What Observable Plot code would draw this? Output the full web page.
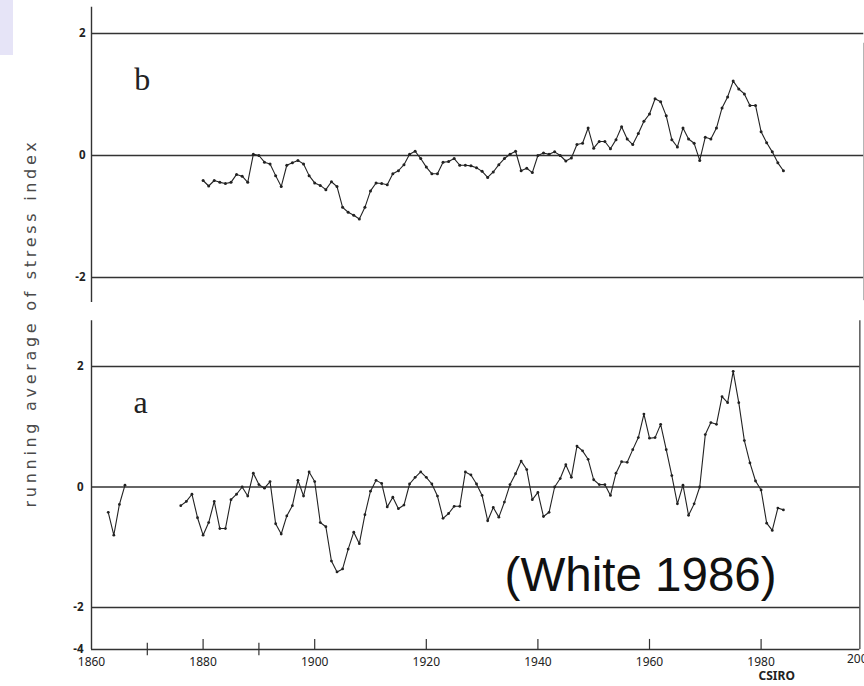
<!DOCTYPE html>
<html>
<head>
<meta charset="utf-8">
<script src="https://cdn.jsdelivr.net/npm/d3@7"></script>
<script src="https://cdn.jsdelivr.net/npm/@observablehq/plot@0.6"></script>
<style>
  html, body { margin: 0; padding: 0; background: #fff; }
  #fig { position: relative; width: 864px; height: 686px; overflow: hidden; background: #fff;
         font-family: "Liberation Sans", Arial, sans-serif; }
  #fig svg { display: block; }
  #corner { position: absolute; left: 0; top: 0; width: 13px; height: 55px; background: #e6e4f7; }
  #ylab { position: absolute; left: -169px; top: 314px; width: 400px; height: 18px; line-height: 18px;
          text-align: center; transform: rotate(-90deg); transform-origin: 50% 50%;
          font-family: "DejaVu Sans", sans-serif; font-size: 16px; letter-spacing: 3.7px; color: #4a4a4a;
          white-space: nowrap; }
</style>
</head>
<body>
<div id="fig"><div id="corner"></div><div id="ylab">running average of stress index</div></div>
<script>
// ---------- data ----------
// Panel b: annual running average, 1880–1984
const bStartYear = 1880;
const bValues = [
  -0.41, -0.50, -0.41, -0.44, -0.46, -0.44, -0.31, -0.34, -0.44, 0.02,
   0.00, -0.11, -0.14, -0.33, -0.51, -0.16, -0.12, -0.08, -0.14, -0.33,
  -0.45, -0.49, -0.56, -0.43, -0.51, -0.85, -0.93, -0.98, -1.04, -0.85,
  -0.58, -0.45, -0.46, -0.48, -0.30, -0.25, -0.15, 0.02, 0.07, -0.05,
  -0.19, -0.30, -0.30, -0.11, -0.10, -0.05, -0.16, -0.16, -0.17, -0.20,
  -0.26, -0.36, -0.27, -0.15, -0.05, 0.02, 0.07, -0.25, -0.21, -0.28,
   0.00, 0.04, 0.02, 0.06, 0.00, -0.09, -0.04, 0.18, 0.20, 0.45,
   0.12, 0.23, 0.23, 0.11, 0.26, 0.47, 0.27, 0.18, 0.36, 0.56,
   0.68, 0.93, 0.88, 0.65, 0.26, 0.14, 0.45, 0.27, 0.20, -0.08,
   0.30, 0.27, 0.45, 0.78, 0.96, 1.22, 1.09, 1.01, 0.82, 0.82,
   0.39, 0.21, 0.06, -0.12, -0.25
];
// Panel a: early fragment 1863–1866, then 1876–1984
const aEarlyStartYear = 1863;
const aEarlyValues = [-0.42, -0.80, -0.29, 0.03];
const aStartYear = 1876;
const aValues = [
  -0.31, -0.24, -0.12, -0.51,
  -0.80, -0.59, -0.24, -0.69, -0.69, -0.21, -0.12, 0.00, -0.15, 0.23,
   0.04, -0.02, 0.09, -0.61, -0.78, -0.48, -0.31, 0.11, -0.15, 0.25,
   0.09, -0.59, -0.66, -1.23, -1.41, -1.36, -1.03, -0.75, -0.94, -0.46,
  -0.07, 0.11, 0.06, -0.33, -0.17, -0.36, -0.30, 0.05, 0.16, 0.25,
   0.16, 0.05, -0.15, -0.52, -0.44, -0.32, -0.32, 0.25, 0.20, 0.05,
  -0.14, -0.56, -0.34, -0.50, -0.25, 0.04, 0.22, 0.43, 0.29, -0.21,
  -0.09, -0.49, -0.42, 0.00, 0.14, 0.37, 0.16, 0.68, 0.60, 0.46,
   0.12, 0.04, 0.04, -0.14, 0.23, 0.42, 0.41, 0.62, 0.82, 1.21,
   0.81, 0.82, 1.04, 0.62, 0.19, -0.28, 0.03, -0.47, -0.28, 0.00,
   0.87, 1.07, 1.04, 1.50, 1.40, 1.92, 1.40, 0.77, 0.40, 0.10,
  -0.05, -0.60, -0.72, -0.35, -0.38
];
// axes
const xTickLabels = [1860, 1880, 1900, 1920, 1940, 1960, 1980];
const xEdgeLabel = [2000];
const xMajorTicks = [1880, 1900, 1920, 1940, 1960, 1980];
const xMinorTicks = [1870, 1890];
const bGridLines = [2, 0, -2];
const bTickLabels = [2, 0, -2];
const aGridLines = [2, 0, -2, -4];
const aTickLabels = [2, 0, -2, -4];
const panelLabels = ["b", "a"];
const sourceNote = "(White 1986)";
const credit = "CSIRO";

// ---------- build tables ----------
const toRows = (start, vals) => vals.map((v, i) => ({year: start + i, v}));
const bData = toRows(bStartYear, bValues);
const aData = [
  ...toRows(aEarlyStartYear, aEarlyValues).map(d => ({...d, seg: 1})),
  ...toRows(aStartYear, aValues).map(d => ({...d, seg: 2}))
];

const X = {domain: [1860, 2000], range: [91, 872.2], axis: null};
const ink = "#222";
const frame = "#333";
const fmt = d => (d < 0 ? "-" + Math.abs(d) : String(d));
// the original figure compresses the axis below -2 (the -2 … -4 band is drawn shorter)
const compressBelow = v => (v < -2 ? -2 + (v + 2) * 0.3486 : v);

// ---------- top panel (b) ----------
const topPlot = Plot.plot({
  width: 864, height: 311, margin: 0,
  style: {background: "transparent", overflow: "visible"},
  x: X,
  y: {domain: [-2, 2], range: [277, 33], axis: null},
  marks: [
    Plot.ruleY(bGridLines, {x1: () => 1860, x2: () => 1998.4, stroke: frame, strokeWidth: 1.3}),
    Plot.ruleX([1860], {y1: () => -2.41, y2: () => 2.43, stroke: frame, strokeWidth: 1.4}),
    Plot.ruleX([1998.4], {y1: () => -2.38, y2: () => 1.84, stroke: "#9a9a9a", strokeWidth: 1}),
    Plot.text(bTickLabels, {x: () => 1860, y: d => d, text: fmt, textAnchor: "end", dx: -6,
      fontSize: 11.5, fontWeight: "bold", fill: ink, letterSpacing: 1}),
    Plot.line(bData, {x: "year", y: "v", stroke: ink, strokeWidth: 1.1}),
    Plot.dot(bData, {x: "year", y: "v", r: 1.5, fill: ink, stroke: "none"}),
    Plot.text([panelLabels[0]], {x: () => 1869.1, y: () => 1.066, text: d => d, lineAnchor: "bottom",
      fontFamily: "Liberation Serif, serif", fontSize: 32, fill: ink})
  ]
});

// ---------- bottom panel (a) ----------
const botPlot = Plot.plot({
  width: 864, height: 375, margin: 0,
  style: {background: "transparent", overflow: "visible"},
  x: X,
  y: {type: "linear", transform: compressBelow, domain: [-2, 2], range: [296, 55], axis: null},
  marks: [
    Plot.ruleY(aGridLines, {x1: () => 1860, x2: () => 1997.7, stroke: frame, strokeWidth: 1.3}),
    Plot.ruleX([1860], {y1: () => -4, y2: () => 2.76, stroke: frame, strokeWidth: 1.4}),
    Plot.ruleX([1997.7], {y1: () => -4, y2: () => 2.76, stroke: frame, strokeWidth: 1.2}),
    Plot.ruleX(xMajorTicks, {y1: () => -4, y2: () => -3.52, stroke: frame, strokeWidth: 1.2}),
    Plot.ruleX(xMinorTicks, {y1: () => -4.3, y2: () => -3.7, stroke: frame, strokeWidth: 1.2}),
    Plot.text(aTickLabels, {x: () => 1860, y: d => d, text: fmt, textAnchor: "end", dx: -8,
      fontSize: 11.5, fontWeight: "bold", fill: ink, letterSpacing: 1}),
    Plot.text(xTickLabels, {x: d => d, y: () => -4, text: d => String(d), lineAnchor: "top", dy: 7.5,
      fontSize: 12, fill: ink}),
    Plot.text(xEdgeLabel, {x: d => d, y: () => -4, text: d => String(d), lineAnchor: "top", dy: 5, dx: -12,
      fontSize: 12, fill: ink}),
    Plot.line(aData, {x: "year", y: "v", z: "seg", stroke: ink, strokeWidth: 1.1}),
    Plot.dot(aData, {x: "year", y: "v", r: 1.4, fill: ink, stroke: "none"}),
    Plot.text([panelLabels[1]], {x: () => 1868.8, y: () => 1.22, text: d => d, lineAnchor: "bottom",
      fontFamily: "Liberation Serif, serif", fontSize: 32, fill: ink}),
    Plot.text([sourceNote], {x: () => 1958.4, y: () => -1.72, text: d => d, lineAnchor: "bottom",
      fontFamily: "Liberation Sans, Arial, sans-serif", fontSize: 47.5, fill: "#111"}),
    Plot.text([credit], {x: () => 1982.8, y: () => -5.45, text: d => d, lineAnchor: "bottom",
      fontSize: 12, fontWeight: "bold", letterSpacing: 3.5, fill: "#222"})
  ]
});

const fig = document.getElementById("fig");
fig.insertBefore(botPlot, fig.firstChild);
fig.insertBefore(topPlot, fig.firstChild);
</script>
</body>
</html>
